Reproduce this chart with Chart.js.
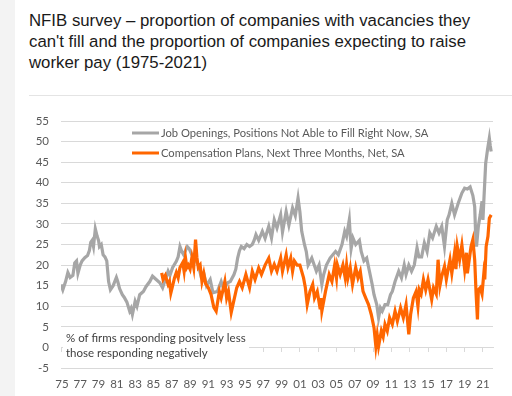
<!DOCTYPE html>
<html>
<head>
<meta charset="utf-8">
<script src="https://cdn.jsdelivr.net/npm/chart.js@4.4.1/dist/chart.umd.min.js"></script>
<style>
    html, body { margin: 0; padding: 0; background: #fff; }
    #wrap { position: relative; width: 512px; height: 396px; overflow: hidden; }
    #strip { position: absolute; left: 0; top: 0; width: 15px; height: 396px; background: #f3f3f3; }
    #title { position: absolute; left: 29px; top: 10px; font-family: "Liberation Sans", Arial, sans-serif; font-size: 16.8px; line-height: 21px; color: #1a1a1a; white-space: nowrap; }
    #rule { position: absolute; left: 29px; right: 0; top: 95px; height: 1px; background: #e4e4e4; }
    #chart { position: absolute; left: 0; top: 0; }
</style>
</head>
<body>
<div id="wrap">
    <div id="strip"></div>
    <div id="title">NFIB survey – proportion of companies with vacancies they<br>can't fill and the proportion of companies expecting to raise<br>worker pay (1975-2021)</div>
    <div id="rule"></div>
    <canvas id="chart" width="512" height="396"></canvas>
</div>
<script>
// tick labels on the year axis
var tickYears = [1975, 1977, 1979, 1981, 1983, 1985, 1987, 1989, 1991, 1993, 1995, 1997,
    1999, 2001, 2003, 2005, 2007, 2009, 2011, 2013, 2015, 2017, 2019, 2021];
var tickLabels = ['75', '77', '79', '81', '83', '85', '87', '89', '91', '93', '95', '97',
    '99', '01', '03', '05', '07', '09', '11', '13', '15', '17', '19', '21'];

var seriesLabels = [
    'Job Openings, Positions Not Able to Fill Right Now, SA',
    'Compensation Plans, Next Three Months, Net, SA'
];
var noteLines = ['% of firms responding positvely less', 'those responding negatively'];

// Job openings (grey)
var grayYears = [1974.9, 1975.1, 1975.4, 1975.65, 1975.9, 1976.2, 1976.4, 1976.6, 1976.75, 1977.0,
    1977.2, 1977.5, 1977.8, 1978.0, 1978.15, 1978.3, 1978.45, 1978.65, 1978.85, 1979.0,
    1979.1, 1979.3, 1979.5, 1979.7, 1979.9, 1980.1, 1980.3, 1980.6, 1980.95, 1981.1,
    1981.3, 1981.6, 1981.8, 1982.1, 1982.4, 1982.55, 1982.7, 1983.0, 1983.2, 1983.5,
    1983.9, 1984.2, 1984.6, 1984.9, 1985.3, 1985.7, 1986.0, 1986.3, 1986.6, 1986.8,
    1987.1, 1987.5, 1987.7, 1987.9, 1988.1, 1988.3, 1988.5, 1988.7, 1988.9, 1989.2,
    1989.5, 1989.9, 1990.2, 1990.5, 1990.8, 1991.2, 1991.5, 1992.0, 1992.4, 1992.7,
    1993.1, 1993.4, 1993.8, 1994.0, 1994.2, 1994.4, 1994.6, 1994.9, 1995.2, 1995.5,
    1995.8, 1996.0, 1996.2, 1996.5, 1996.9, 1997.2, 1997.6, 1997.9, 1998.2, 1998.5,
    1998.9, 1999.1, 1999.5, 1999.8, 2000.2, 2000.5, 2000.8, 2001.0, 2001.2, 2001.5,
    2001.7, 2001.9, 2002.3, 2002.8, 2003.1, 2003.4, 2003.6, 2003.9, 2004.3, 2004.6,
    2004.9, 2005.2, 2005.6, 2005.9, 2006.1, 2006.4, 2006.6, 2006.8, 2007.1, 2007.5,
    2007.7, 2008.0, 2008.3, 2008.6, 2008.9, 2009.1, 2009.4, 2009.6, 2009.8, 2010.0,
    2010.3, 2010.6, 2010.9, 2011.1, 2011.4, 2011.8, 2012.1, 2012.4, 2012.6, 2012.9,
    2013.2, 2013.5, 2013.8, 2014.0, 2014.3, 2014.6, 2014.9, 2015.2, 2015.5, 2015.9,
    2016.2, 2016.5, 2016.8, 2017.1, 2017.3, 2017.6, 2017.9, 2018.3, 2018.7, 2019.0,
    2019.3, 2019.6, 2019.9, 2020.1, 2020.2, 2020.3, 2020.5, 2020.7, 2020.9, 2021.0,
    2021.1, 2021.3, 2021.5, 2021.7, 2021.8, 2021.9];
var grayValues = [15.3, 14.0, 16.0, 18.2, 17.0, 17.5, 20.5, 21.0, 18.0, 20.0,
    21.0, 21.8, 22.3, 23.5, 25.5, 26.0, 24.5, 28.8, 27.0, 26.0,
    24.5, 25.0, 22.5, 22.0, 21.0, 16.0, 14.0, 15.0, 17.0, 16.0,
    14.3, 12.8, 12.2, 11.0, 8.8, 9.5, 8.0, 11.2, 10.0, 12.8,
    13.6, 14.8, 16.0, 17.3, 16.5, 15.7, 14.5, 16.5, 18.5, 17.5,
    19.4, 20.9, 22.0, 24.5, 23.3, 22.5, 23.5, 24.5, 24.0, 22.5,
    21.8, 20.0, 17.3, 18.0, 15.0, 16.5, 13.3, 13.6, 16.0, 14.0,
    15.7, 16.0, 17.7, 19.0, 21.7, 23.5, 24.5, 24.0, 25.0, 24.5,
    25.0, 26.0, 27.4, 26.0, 28.2, 26.5, 29.4, 26.6, 31.0, 29.0,
    32.2, 28.0, 33.0, 29.7, 33.9, 32.0, 36.3, 33.0, 28.2, 25.0,
    23.3, 20.0, 21.7, 18.5, 20.0, 15.3, 17.7, 20.0, 21.7, 22.5,
    23.3, 22.5, 25.0, 28.2, 27.0, 31.0, 24.0, 26.6, 25.0, 26.0,
    23.3, 21.0, 21.7, 18.5, 15.3, 12.8, 10.4, 7.2, 9.6, 8.8,
    10.4, 10.4, 12.8, 13.6, 16.0, 18.5, 16.9, 20.0, 17.7, 20.0,
    18.5, 20.0, 24.2, 22.0, 22.0, 25.4, 23.3, 27.8, 26.6, 29.4,
    27.8, 29.4, 24.5, 31.0, 32.2, 35.0, 32.2, 35.0, 37.5, 38.7,
    38.5, 39.0, 36.9, 34.2, 27.8, 24.5, 29.4, 32.2, 35.5, 31.0,
    35.7, 44.7, 48.0, 50.8, 49.0, 47.6];

// Compensation plans (orange)
var orangeYears = [1985.9, 1986.05, 1986.3, 1986.6, 1986.75, 1986.9, 1987.1, 1987.3, 1987.5, 1987.7,
    1987.9, 1988.2, 1988.35, 1988.5, 1988.65, 1988.8, 1989.0, 1989.2, 1989.4, 1989.6,
    1989.75, 1989.9, 1990.1, 1990.3, 1990.5, 1990.7, 1991.0, 1991.3, 1991.6, 1991.85,
    1992.2, 1992.4, 1992.8, 1993.0, 1993.2, 1993.5, 1993.7, 1994.1, 1994.4, 1994.7,
    1995.1, 1995.5, 1995.8, 1996.1, 1996.5, 1996.8, 1997.2, 1997.6, 1997.9, 1998.2,
    1998.5, 1998.9, 1999.1, 1999.5, 1999.7, 2000.0, 2000.2, 2000.4, 2000.7, 2001.0,
    2001.4, 2001.6, 2001.8, 2002.1, 2002.4, 2002.6, 2002.9, 2003.2, 2003.3, 2003.4,
    2003.8, 2004.2, 2004.5, 2004.8, 2005.0, 2005.1, 2005.4, 2005.7, 2005.95, 2006.1,
    2006.25, 2006.5, 2006.75, 2007.1, 2007.35, 2007.6, 2007.9, 2008.2, 2008.5, 2008.8,
    2009.1, 2009.3, 2009.45, 2009.6, 2009.9, 2010.1, 2010.3, 2010.55, 2010.8, 2011.1,
    2011.4, 2011.65, 2012.0, 2012.3, 2012.6, 2012.9, 2013.1, 2013.4, 2013.7, 2013.9,
    2014.05, 2014.25, 2014.5, 2014.75, 2015.0, 2015.4, 2015.6, 2015.9, 2016.1, 2016.3,
    2016.5, 2016.8, 2017.0, 2017.2, 2017.4, 2017.6, 2017.9, 2018.05, 2018.2, 2018.45,
    2018.7, 2018.85, 2019.0, 2019.2, 2019.3, 2019.5, 2019.7, 2019.9, 2020.1, 2020.25,
    2020.4, 2020.5, 2020.7, 2020.9, 2021.1, 2021.2, 2021.35, 2021.55, 2021.7, 2021.9];
var orangeValues = [18.1, 16.5, 17.5, 15.3, 16.0, 13.2, 15.0, 16.9, 18.2, 16.9,
    19.4, 20.6, 18.5, 21.8, 19.4, 20.0, 19.0, 21.8, 19.4, 26.2,
    21.8, 19.4, 20.0, 16.0, 18.0, 15.5, 14.5, 12.8, 9.7, 8.8,
    13.6, 12.0, 16.0, 12.0, 13.6, 8.5, 10.5, 14.5, 16.0, 14.5,
    17.7, 14.5, 18.5, 16.5, 19.3, 17.7, 20.0, 21.7, 18.5, 20.2,
    18.5, 21.7, 18.5, 22.5, 19.4, 21.7, 18.5, 21.0, 20.0, 20.0,
    16.9, 14.5, 10.4, 13.6, 15.3, 12.0, 13.6, 9.6, 12.0, 8.8,
    13.6, 17.7, 16.0, 20.0, 16.9, 20.0, 17.7, 20.0, 16.9, 20.0,
    16.9, 19.4, 15.3, 19.4, 16.9, 18.5, 13.6, 12.0, 10.4, 8.0,
    4.8, 0.3, 3.0, 0.3, 4.0, 2.6, 5.6, 4.0, 7.2, 5.6,
    8.8, 6.4, 9.6, 7.2, 10.4, 3.2, 8.0, 12.0, 13.6, 10.0,
    14.0, 13.0, 16.5, 14.0, 16.5, 11.6, 14.5, 13.0, 21.3, 15.0,
    17.3, 19.7, 16.5, 19.0, 21.3, 18.0, 23.0, 19.0, 24.5, 21.3,
    24.9, 22.0, 19.0, 23.0, 18.0, 21.3, 24.5, 26.2, 21.3, 13.2,
    6.8, 14.0, 14.5, 13.0, 18.0, 16.5, 24.5, 27.0, 31.4, 32.2];

var GRAY = '#a6a6a6';
var ORANGE = '#ff6600';
var GRID = '#d9d9d9';
var TEXT = '#595959';
var FONT = 'Lato, "Open Sans", sans-serif';

function toPoints(xs, ys) {
    return xs.map(function (x, i) { return { x: x, y: ys[i] }; });
}

function setYearTicks(scale) {
    scale.ticks = tickYears.map(function (v) { return { value: v }; });
}

// legend inside the plot and the note box near the zero line
var overlayText = {
    id: 'overlayText',
    beforeDatasetsDraw: function (chart) {
        var ctx = chart.ctx, a = chart.chartArea;
        var y0 = chart.scales.y.getPixelForValue(0);
        ctx.save();
        ctx.fillStyle = '#ffffff';
        ctx.fillRect(a.left + 2, y0 - 17, 186, 31);
        ctx.font = '11.5px ' + FONT;
        ctx.fillStyle = '#404040';
        ctx.textBaseline = 'middle';
        ctx.textAlign = 'left';
        ctx.fillText(noteLines[0], a.left + 5, y0 - 9);
        ctx.fillText(noteLines[1], a.left + 5, y0 + 6);
        ctx.restore();
    },
    afterDatasetsDraw: function (chart) {
        var ctx = chart.ctx, a = chart.chartArea;
        ctx.save();
        ctx.font = '11.2px ' + FONT;
        ctx.textBaseline = 'middle';
        ctx.textAlign = 'left';
        chart.data.datasets.forEach(function (ds, i) {
            var y = a.top + 12 + i * 20;
            ctx.strokeStyle = ds.borderColor;
            ctx.lineWidth = 3;
            ctx.beginPath();
            ctx.moveTo(a.left + 71, y);
            ctx.lineTo(a.left + 98, y);
            ctx.stroke();
            ctx.fillStyle = TEXT;
            ctx.fillText(ds.label, a.left + 100, y);
        });
        ctx.restore();
    }
};

new Chart(document.getElementById('chart').getContext('2d'), {
    type: 'line',
    data: {
        datasets: [
            {
                label: seriesLabels[0],
                data: toPoints(grayYears, grayValues),
                borderColor: GRAY,
                borderWidth: 3.2,
                pointRadius: 0,
                tension: 0,
                fill: false,
                order: 1
            },
            {
                label: seriesLabels[1],
                data: toPoints(orangeYears, orangeValues),
                borderColor: ORANGE,
                borderWidth: 3.2,
                pointRadius: 0,
                tension: 0,
                fill: false,
                order: 0
            }
        ]
    },
    options: {
        responsive: false,
        animation: false,
        layout: { padding: { left: 15, top: 121, right: 19, bottom: 0 } },
        plugins: {
            legend: { display: false },
            tooltip: { enabled: false }
        },
        scales: {
            x: {
                type: 'linear',
                min: 1974.9,
                max: 2022.1,
                afterBuildTicks: setYearTicks,
                afterFit: function (s) { s.height = 28; },
                grid: { display: false, drawTicks: false },
                border: { display: false },
                ticks: {
                    padding: 9,
                    color: TEXT,
                    font: { family: FONT, size: 11.5 },
                    maxRotation: 0,
                    autoSkip: false,
                    callback: function (v, i) { return tickLabels[i]; }
                }
            },
            x0: {
                type: 'linear',
                position: { y: 0 },
                min: 1974.9,
                max: 2022.1,
                afterBuildTicks: setYearTicks,
                grid: { drawOnChartArea: false, drawTicks: true, tickLength: 4, color: GRID },
                border: { display: true, color: GRID },
                ticks: { display: false }
            },
            y: {
                min: -5,
                max: 55,
                afterFit: function (s) { s.width = 46; },
                grid: { color: GRID, drawTicks: false },
                border: { display: false },
                ticks: {
                    stepSize: 5,
                    padding: 12,
                    color: TEXT,
                    font: { family: FONT, size: 11.5 }
                }
            }
        }
    },
    plugins: [overlayText]
});
</script>
</body>
</html>
